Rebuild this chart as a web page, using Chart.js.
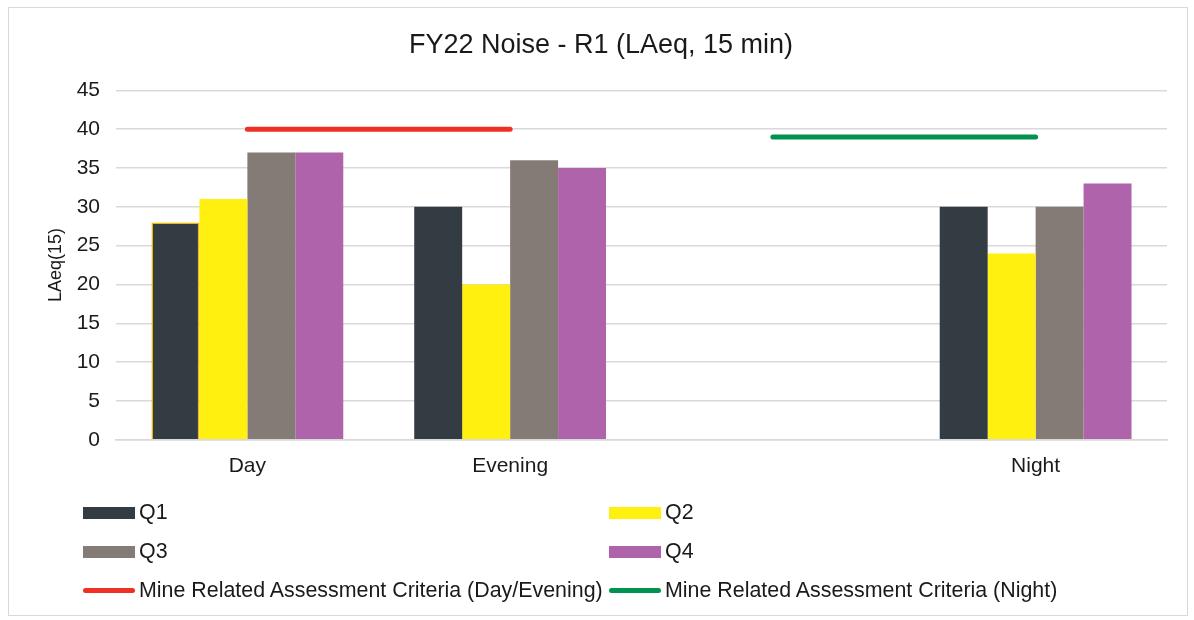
<!DOCTYPE html>
<html>
<head>
<meta charset="utf-8">
<script src="https://cdn.jsdelivr.net/npm/chart.js@4/dist/chart.umd.min.js"></script>
<style>
  body { margin: 0; background: #fff; font-family: "Liberation Sans", Arial, sans-serif; }
  #frame { position: absolute; left: 8px; top: 7px; width: 1180px; height: 609px; border: 1px solid #d9d9d9; box-sizing: border-box; }
  #c { position: absolute; left: 0; top: 0; }
  #legend { position: absolute; left: 74px; top: 485px; display: grid; grid-template-columns: 526px 560px; grid-auto-rows: 39px; }
  .item { display: flex; align-items: center; font-size: 21.4px; color: #1a1a1a; white-space: nowrap; }
  .sw { width: 52px; height: 12px; margin-right: 4px; flex: none; }
  .sw.line { height: 5px; border-radius: 3px; }
</style>
</head>
<body>
<div id="frame">
  <canvas id="c" width="1178" height="490"></canvas>
  <div id="legend"></div>
</div>
<script>
const categories = ['Day', 'Evening', '', 'Night'];
const q1 = [28, 30, null, 30];
const q2 = [31, 20, null, 24];
const q3 = [37, 36, null, 30];
const q4 = [37, 35, null, 33];
const criteriaDayEvening = [40, 40, null, null];
const criteriaNight = [null, null, 39, 39];
const yMin = 0, yMax = 45, yStep = 5;

const font = "'Liberation Sans', Arial, sans-serif";
Chart.defaults.font.family = font;
Chart.defaults.color = '#1a1a1a';

const bar = (label, data, color) => ({
  type: 'bar', label, data, backgroundColor: color, borderWidth: 0, order: 2,
  barPercentage: 1, categoryPercentage: 0.73
});
const line = (label, data, color) => ({
  type: 'line', label, data, borderColor: color, backgroundColor: color,
  borderWidth: 5, borderCapStyle: 'round', pointRadius: 0, spanGaps: false, order: 1
});

const datasets = [
  bar('Q1', q1, '#333c43'),
  bar('Q2', q2, '#fff00f'),
  bar('Q3', q3, '#857b76'),
  bar('Q4', q4, '#ae63aa'),
  line('Mine Related Assessment Criteria (Day/Evening)', criteriaDayEvening, '#ee3124'),
  line('Mine Related Assessment Criteria (Night)', criteriaNight, '#00924f')
];
// the Day Q1 bar is outlined in orange in the original
datasets[0].borderColor = '#f5b400';
datasets[0].borderWidth = [1.5, 0, 0, 0];

const chart = new Chart(document.getElementById('c'), {
  data: { labels: categories, datasets },
  options: {
    responsive: false,
    animation: false,
    layout: { padding: { left: 26, right: 20, top: 0, bottom: 5 } },
    plugins: {
      legend: { display: false },
      tooltip: { enabled: false },
      title: {
        display: true,
        text: 'FY22 Noise - R1 (LAeq, 15 min)',
        font: { size: 27, weight: 'normal' },
        color: '#1a1a1a',
        padding: { top: 21, bottom: 29 }
      }
    },
    scales: {
      x: {
        grid: { display: false, drawTicks: false },
        border: { color: '#d9d9d9', width: 1.5 },
        ticks: { font: { size: 21 }, padding: 14 }
      },
      y: {
        min: yMin, max: yMax,
        ticks: { stepSize: yStep, font: { size: 21 }, padding: 16 },
        grid: { color: '#d9d9d9', lineWidth: 1.5, drawTicks: false },
        border: { display: false },
        title: { display: true, text: 'LAeq(15)', font: { size: 18 }, padding: { top: 10, bottom: 0 } },
        afterFit: s => { s.width = 81; }
      }
    }
  }
});

const legend = document.getElementById('legend');
chart.data.datasets.forEach(ds => {
  const item = document.createElement('div');
  item.className = 'item';
  const sw = document.createElement('span');
  sw.className = 'sw' + (ds.type === 'line' ? ' line' : '');
  sw.style.background = ds.type === 'line' ? ds.borderColor : ds.backgroundColor;
  const txt = document.createElement('span');
  txt.textContent = ds.label;
  item.appendChild(sw);
  item.appendChild(txt);
  legend.appendChild(item);
});
</script>
</body>
</html>
